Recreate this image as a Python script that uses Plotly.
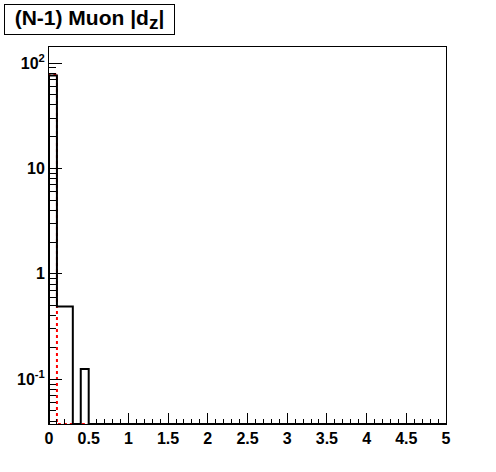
import plotly.graph_objects as go
import numpy as np

# Data
bin_edges = [round(0.1 * i, 1) for i in range(51)]
all_counts = [76, 0.49, 0.49, 0, 0.125] + [0] * 45       # black histogram
cut_counts = [78] + [0] * 49                               # red dotted histogram
y_ticks = [0.1, 1, 10, 100]
y_tick_text = ["10<sup>-1</sup>", "1", "10", "10<sup>2</sup>"]
x_ticks = [0, 0.5, 1, 1.5, 2, 2.5, 3, 3.5, 4, 4.5, 5]
x_tick_text = ["0", "0.5", "1", "1.5", "2", "2.5", "3", "3.5", "4", "4.5", "5"]
title_text = "(N-1) Muon |d<sub><span style='font-size:19px'>z</span></sub>|"

y_min, y_max = 0.0376, 142.0


def step_xy(edges, counts):
    ys = [c if c > 0 else y_min for c in counts]
    xs = [edges[0]] + list(edges)
    yy = [y_min] + ys + [ys[-1]]
    return xs, yy


fig = go.Figure()
xr, yr = step_xy(bin_edges, cut_counts)
fig.add_trace(go.Scatter(x=xr, y=yr, mode="lines", line=dict(shape="hv", color="#ff0000", width=2, dash="dot"),
                         hoverinfo="skip", showlegend=False))
xb, yb = step_xy(bin_edges, all_counts)
fig.add_trace(go.Scatter(x=xb, y=yb, mode="lines", line=dict(shape="hv", color="black", width=2),
                         hoverinfo="skip", showlegend=False))

minor_y = []
for d in [0.01, 0.1, 1, 10]:
    for m in range(2, 10):
        v = m * d
        if y_min < v < y_max:
            minor_y.append(v)

font = dict(family="Liberation Sans, Arial, sans-serif", size=16, color="black", weight="bold")

fig.update_layout(
    width=496, height=472,
    margin=dict(l=49, r=50, t=47, b=48),
    paper_bgcolor="white", plot_bgcolor="white",
    font=font,
    xaxis=dict(range=[0, 5], tickvals=x_ticks, ticktext=x_tick_text, ticks="inside", ticklen=11,
               tickwidth=1, tickcolor="black", showline=True, linecolor="black", linewidth=1,
               mirror=True, showgrid=False, zeroline=False, tickfont=font,
               minor=dict(dtick=0.1, tick0=0, ticks="inside", ticklen=5, tickcolor="black", showgrid=False)),
    yaxis=dict(type="log", range=[np.log10(y_min), np.log10(y_max)], tickvals=y_ticks, ticktext=y_tick_text,
               ticks="inside", ticklen=13, tickwidth=1, tickcolor="black", showline=True, linecolor="black",
               linewidth=1, mirror=True, showgrid=False, zeroline=False, tickfont=font,
               minor=dict(tickmode="array", tickvals=minor_y, ticks="inside", ticklen=7, tickcolor="black",
                          showgrid=False)),
    annotations=[dict(text=title_text, xref="paper", yref="paper", x=(4 - 49) / 397, y=(424 - 4) / 377,
                      xanchor="left", yanchor="top", showarrow=False, bordercolor="black", borderwidth=1,
                      bgcolor="white", width=167, height=27, align="center",
                      font=dict(family="Liberation Sans, Arial, sans-serif", size=21, color="black", weight="bold"))],
)

fig.write_html("out.html", config={"displayModeBar": False},
               post_script="document.body.style.margin='0';")
